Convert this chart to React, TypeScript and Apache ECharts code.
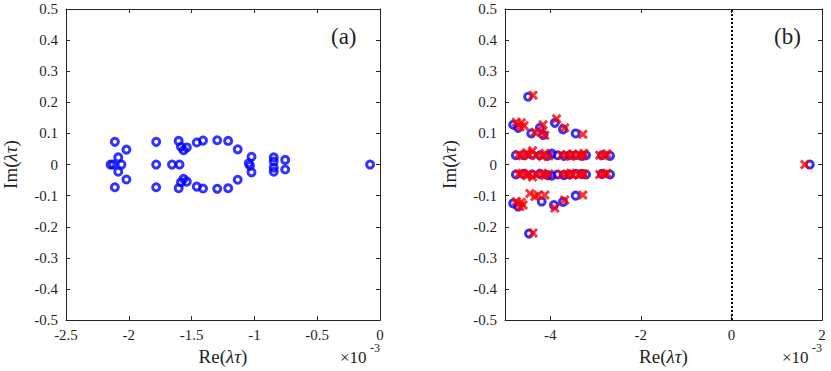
import React, { useEffect, useRef } from "react";
import * as echarts from "echarts";

// Panel (a): eigenvalues, Re in units of 1e-3
const reA = [
  -2.111, -2.019, -2.084, -2.145, -2.125, -2.058, -2.084, -2.019, -2.111,
  -1.782, -1.782, -1.782, -1.656, -1.596,
  -1.603, -1.585, -1.564, -1.538, -1.603, -1.585, -1.564, -1.538,
  -1.459, -1.409, -1.296, -1.209, -1.133, -1.459, -1.409, -1.296, -1.209, -1.133,
  -1.023, -1.023, -1.045, -1.035,
  -0.846, -0.846, -0.846, -0.846, -0.755, -0.755, -0.079,
];
const imA = [
  0.073, 0.048, 0.023, 0.0, 0.0, 0.0, -0.023, -0.048, -0.073,
  0.073, 0.0, -0.073, 0.0, 0.0,
  0.076, 0.057, 0.046, 0.055, -0.076, -0.057, -0.046, -0.055,
  0.071, 0.077, 0.078, 0.076, 0.049, -0.071, -0.077, -0.078, -0.076, -0.049,
  0.025, -0.025, 0.004, -0.004,
  0.023, 0.01, -0.01, -0.023, 0.015, -0.016, 0.0,
];

// Panel (b): blue circles
const reBlue = [
  -4.49, -4.82, -4.71, -4.42, -4.23, -4.15, -3.9, -3.72, -3.44,
  -4.76, -4.59, -4.41, -4.23, -4.06, -3.97, -3.84, -3.7, -3.57, -3.44, -3.3, -3.21, -2.86, -2.68,
  -4.76, -4.59, -4.41, -4.23, -4.06, -3.97, -3.84, -3.7, -3.57, -3.44, -3.3, -3.21, -2.86, -2.68,
  -4.82, -4.71, -4.19, -3.92, -3.72, -3.44, -4.47, 1.73,
];
const imBlue = [
  0.218, 0.128, 0.118, 0.1, 0.118, 0.095, 0.134, 0.113, 0.1,
  0.03, 0.03, 0.032, 0.03, 0.028, 0.035, 0.03, 0.028, 0.03, 0.03, 0.028, 0.03, 0.03, 0.028,
  -0.032, -0.03, -0.032, -0.03, -0.034, -0.036, -0.032, -0.034, -0.032, -0.03, -0.03, -0.032, -0.03, -0.032,
  -0.125, -0.135, -0.119, -0.13, -0.12, -0.1, -0.222, 0.0,
];

// Panel (b): red crosses
const reRed = [
  -4.38, -4.75, -4.64, -4.67, -4.58, -4.34, -4.16, -4.19, -4.12, -3.86, -3.68, -3.28,
  -4.7, -4.62, -4.52, -4.46, -4.39, -4.3, -4.18, -4.12, -4.03, -3.75, -3.64, -3.55, -3.5, -3.37, -3.3, -3.26, -2.91, -2.82, -2.75,
  -4.7, -4.62, -4.52, -4.46, -4.39, -4.3, -4.18, -4.12, -4.03, -3.75, -3.64, -3.55, -3.5, -3.37, -3.3, -3.26, -2.91, -2.82, -2.75,
  -4.75, -4.64, -4.67, -4.6, -4.45, -4.34, -4.27, -4.12, -3.9, -3.68, -3.28, -4.38, 1.62,
];
const imRed = [
  0.223, 0.136, 0.134, 0.121, 0.125, 0.104, 0.128, 0.104, 0.094, 0.147, 0.118, 0.097,
  0.032, 0.028, 0.038, 0.03, 0.044, 0.03, 0.026, 0.036, 0.028, 0.03, 0.032, 0.026, 0.034, 0.03, 0.028, 0.036, 0.03, 0.028, 0.035,
  -0.03, -0.028, -0.036, -0.03, -0.04, -0.032, -0.028, -0.036, -0.03, -0.032, -0.03, -0.028, -0.034, -0.032, -0.03, -0.03, -0.032, -0.03, -0.028,
  -0.119, -0.121, -0.135, -0.13, -0.093, -0.103, -0.098, -0.098, -0.14, -0.114, -0.098, -0.22, 0.0,
];

const xTicksB = [-4, -2, 0, 2];

const FONT = "Liberation Serif";
const AX = "#1f1f1f";

const zip = (a: number[], b: number[]) => a.map((v, i) => [v, b[i]]);

const CROSS =
  "path://M0,2.1L2.1,0L5,2.9L7.9,0L10,2.1L7.1,5L10,7.9L7.9,10L5,7.1L2.1,10L0,7.9L2.9,5Z";

export default function App() {
  const ref = useRef<HTMLDivElement>(null);
  useEffect(() => {
    if (!ref.current) return;
    const chart = echarts.init(ref.current, null, { renderer: "svg" });
    const labelStyle = { fontFamily: FONT, fontSize: 15, color: AX };
    const nameStyle = {
      fontFamily: FONT,
      fontSize: 19,
      color: AX,
      rich: {
        r: { fontFamily: FONT, fontSize: 19, color: AX },
        i: { fontFamily: FONT, fontSize: 19, color: AX, fontStyle: "italic" },
      },
    };
    const axLine = { show: true, onZero: false, lineStyle: { color: "#262626", width: 1 } };
    const tick = { show: true, inside: true, length: 4, lineStyle: { color: "#262626" } };
    const xMain = (grid: number, extra: any) => ({
      type: "value",
      gridIndex: grid,
      position: "bottom",
      axisLine: axLine,
      axisTick: tick,
      axisLabel: { ...labelStyle, margin: 7 },
      splitLine: { show: false },
      name: "{r|Re(}{i|λτ}{r|)}",
      nameLocation: "middle",
      nameGap: 24,
      nameTextStyle: nameStyle,
      ...extra,
    });
    const xTop = (grid: number, extra: any) => ({
      type: "value",
      gridIndex: grid,
      position: "top",
      axisLine: axLine,
      axisTick: tick,
      axisLabel: { show: false },
      splitLine: { show: false },
      ...extra,
    });
    const yMain = (grid: number) => ({
      type: "value",
      gridIndex: grid,
      position: "left",
      min: -0.5,
      max: 0.5,
      interval: 0.1,
      axisLine: axLine,
      axisTick: tick,
      axisLabel: { ...labelStyle, margin: 8 },
      splitLine: { show: false },
      name: "{r|Im(}{i|λτ}{r|)}",
      nameLocation: "middle",
      nameGap: 46,
      nameTextStyle: nameStyle,
    });
    const yRight = (grid: number) => ({
      type: "value",
      gridIndex: grid,
      position: "right",
      min: -0.5,
      max: 0.5,
      interval: 0.1,
      axisLine: axLine,
      axisTick: tick,
      axisLabel: { show: false },
      splitLine: { show: false },
    });
    const aExtra = { min: -2.5, max: 0, interval: 0.5 };
    const bExtra = {
      min: -5,
      max: 2,
      axisTick: { ...tick, customValues: xTicksB },
    };
    const circleStyle = {
      color: "rgba(0,0,0,0)",
      borderColor: "#0000ff",
      borderWidth: 3,
    };
    const textEl = (x: number, y: number, text: string, size: number) => ({
      type: "text",
      x,
      y,
      style: {
        text,
        fontFamily: FONT,
        fontSize: size,
        fill: AX,
        textAlign: "left",
        textVerticalAlign: "middle",
      },
    });
    chart.setOption({
      animation: false,
      backgroundColor: "#ffffff",
      grid: [
        { left: 63, right: 451, top: 9, bottom: 46 },
        { left: 505, right: 9, top: 9, bottom: 46 },
      ],
      xAxis: [
        xMain(0, aExtra),
        xTop(0, aExtra),
        xMain(1, {
          ...bExtra,
          axisLabel: { ...labelStyle, margin: 7, customValues: xTicksB },
        }),
        xTop(1, bExtra),
      ],
      yAxis: [yMain(0), yRight(0), yMain(1), yRight(1)],
      graphic: [
        textEl(331, 36, "(a)", 23),
        textEl(774, 36, "(b)", 23),
        textEl(340, 357, "×10", 17),
        textEl(370, 348, "-3", 12),
        textEl(782, 357, "×10", 17),
        textEl(812, 348, "-3", 12),
      ],
      series: [
        {
          type: "scatter",
          xAxisIndex: 0,
          yAxisIndex: 0,
          symbol: "circle",
          symbolSize: 7,
          itemStyle: circleStyle,
          data: zip(reA, imA),
        },
        {
          type: "scatter",
          xAxisIndex: 2,
          yAxisIndex: 2,
          symbol: "circle",
          symbolSize: 7,
          itemStyle: circleStyle,
          data: zip(reBlue, imBlue),
          markLine: {
            silent: true,
            symbol: "none",
            label: { show: false },
            lineStyle: { color: "#000", width: 2, type: [2, 2] },
            data: [{ xAxis: 0 }],
          },
        },
        {
          type: "scatter",
          xAxisIndex: 2,
          yAxisIndex: 2,
          symbol: CROSS,
          symbolSize: 10,
          itemStyle: { color: "#ff0000" },
          data: zip(reRed, imRed),
        },
      ],
    });
    return () => chart.dispose();
  }, []);
  return (
    <div
      ref={ref}
      style={{ position: "fixed", left: 0, top: 0, width: 831, height: 371, background: "#fff" }}
    />
  );
}
